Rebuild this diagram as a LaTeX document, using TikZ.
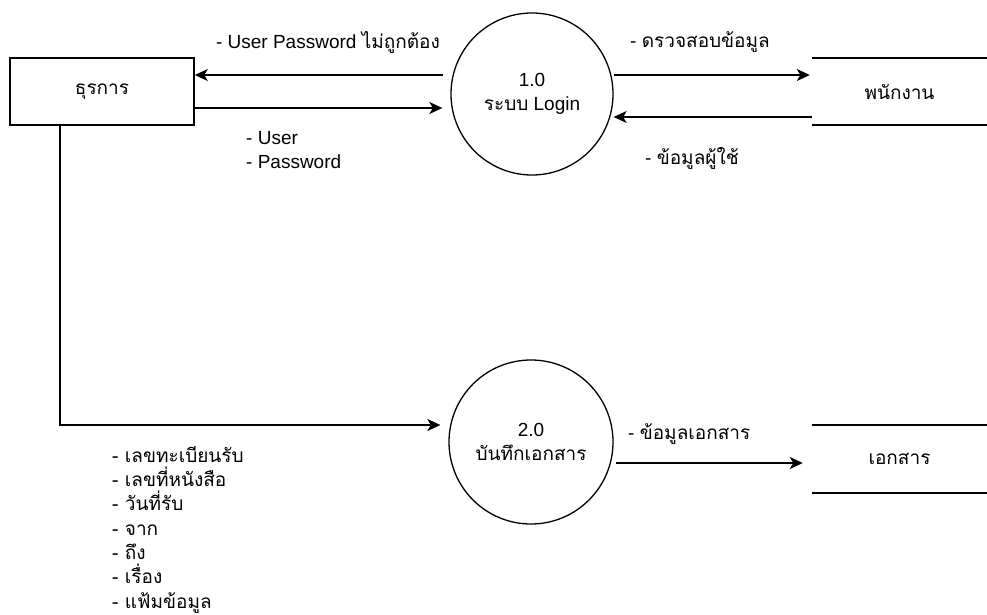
\documentclass[tikz,border=0pt]{standalone}
\usepackage{fontspec}
\setmainfont{Liberation Sans}
\newfontfamily\thfont[Script=Thai]{Loma}
\usetikzlibrary{arrows.meta}
\begin{document}
\lineskiplimit=-100pt
\begin{tikzpicture}[x=1pt,y=-1pt,
  every node/.style={font=\fontsize{19}{24.3}\selectfont},
  line/.style={line width=1.6pt},
  arr/.style={line width=1.6pt,-{Stealth[length=13pt,width=12pt,inset=3.5pt]}},
  proc/.style={draw,circle,line width=1.3pt,align=center,inner sep=0pt},
  ext/.style={draw,rectangle,line width=1.6pt,minimum width=184pt,minimum height=67pt},
  store/.style={minimum width=175pt,minimum height=67pt,inner sep=0pt},
  lbl/.style={inner sep=0pt}]
\useasboundingbox (0,0) rectangle (987,615);
% entities and processes
\node[ext] (admin) at (102,91.5) {\thfont ธุรการ};
\node[proc,minimum size=162pt] (p1) at (532,94) {1.0\\{\thfont ระบบ} Login};
\node[store] (s1) at (899.5,91.5) {\thfont พนักงาน};
\draw[line] (s1.north west) -- (s1.north east);
\draw[line] (s1.south west) -- (s1.south east);
\node[proc,minimum size=164pt] (p2) at (531,442) {2.0\\{\thfont บันทึกเอกสาร}};
\node[store,minimum height=68pt] (s2) at (899.5,459) {\thfont เอกสาร};
\draw[line] (s2.north west) -- (s2.north east);
\draw[line] (s2.south west) -- (s2.south east);
% flows
\draw[arr] ([xshift=-7pt]p1.west |- 0,75) -- (admin.east |- 0,75);
\draw[arr] (admin.east |- 0,108) -- ([xshift=-8pt]p1.west |- 0,108);
\draw[arr] (p1.east |- 0,75) -- ([xshift=-2pt]s1.west |- 0,75);
\draw[arr] (s1.west |- 0,117) -- (p1.east |- 0,117);
\draw[arr] (admin.south -| 60,0) |- ([xshift=-8pt]p2.west |- 0,425);
\draw[arr] ([xshift=2pt]p2.east |- 0,463) -- ([xshift=-9pt]s2.west |- 0,463);
% labels
\node[lbl] (l1) at (328,42) {- User Password {\thfont ไม่ถูกต้อง}};
\node[lbl,align=left,anchor=west] (l2) at (246,150) {- User\\- Password};
\node[lbl,anchor=west] (l3) at (630,42) {- {\thfont ดรวจสอบข้อมูล}};
\node[lbl,anchor=west] (l4) at (645,158) {- {\thfont ข้อมูลผู้ใช้}};
\node[lbl,anchor=west] (l5) at (628,434) {- {\thfont ข้อมูลเอกสาร}};
\node[lbl,anchor=north west,align=left,font=\fontsize{19}{24.3}\selectfont\thfont] (l6) at (112,446)
  {- เลขทะเบียนรับ\\- เลขที่หนังสือ\\- วันที่รับ\\- จาก\\- ถึง\\- เรื่อง\\- แฟ้มข้อมูล};
\end{tikzpicture}
\end{document}
